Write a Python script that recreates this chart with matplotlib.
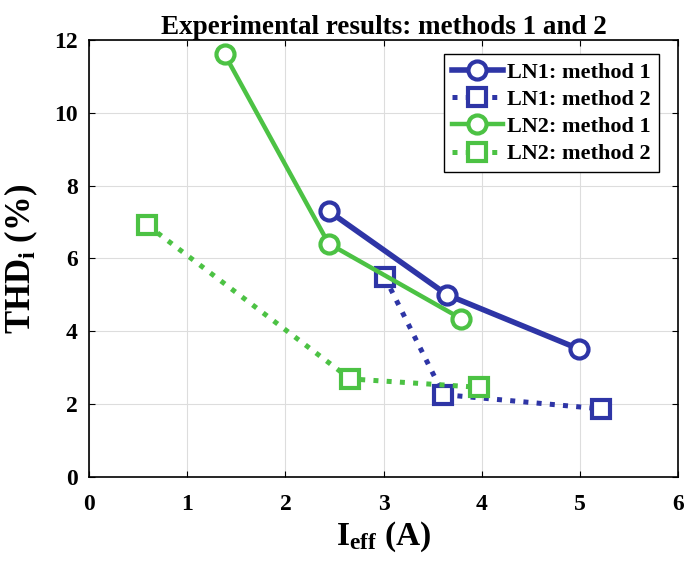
import matplotlib.pyplot as plt

ln1_m1_x = [2.44, 3.65, 4.99]
ln1_m1_y = [7.3, 5.0, 3.52]
ln1_m2_x = [3.01, 3.61, 5.21]
ln1_m2_y = [5.5, 2.27, 1.88]
ln2_m1_x = [1.38, 2.44, 3.79]
ln2_m1_y = [11.6, 6.41, 4.35]
ln2_m2_x = [0.59, 2.66, 3.97]
ln2_m2_y = [6.92, 2.7, 2.47]

BLUE = "#2e35a6"
GREEN = "#4cc244"

plt.rcParams["font.family"] = ["Liberation Serif", "DejaVu Serif"]
plt.rcParams["font.weight"] = "bold"
plt.rcParams["mathtext.fontset"] = "custom"
plt.rcParams["mathtext.rm"] = "Liberation Serif:bold"
plt.rcParams["mathtext.it"] = "Liberation Serif:bold"
plt.rcParams["mathtext.bf"] = "Liberation Serif:bold"

fig, ax = plt.subplots(figsize=(6.85, 5.65), dpi=100)
fig.subplots_adjust(left=0.13, right=0.99, top=0.93, bottom=0.155)

mk = dict(markersize=13, markeredgewidth=3, markerfacecolor="white")
ax.plot(ln1_m1_x, ln1_m1_y, "-", marker="o", color=BLUE, linewidth=4, label="LN1: method 1", **mk)
ax.plot(ln1_m2_x, ln1_m2_y, ":", marker="s", color=BLUE, linewidth=3.6, label="LN1: method 2", **mk)
ax.plot(ln2_m1_x, ln2_m1_y, "-", marker="o", color=GREEN, linewidth=3.2, label="LN2: method 1", **mk)
ax.plot(ln2_m2_x, ln2_m2_y, ":", marker="s", color=GREEN, linewidth=3.6, label="LN2: method 2", **mk)

ax.set_xlim(0, 6)
ax.set_ylim(0, 12)
ax.set_xticks(range(0, 7))
ax.set_yticks(range(0, 13, 2))
ax.grid(True, color="#dddddd", linewidth=0.8)
ax.tick_params(direction="in", top=True, right=True, labelsize=17, length=4)
ax.tick_params(axis="x", pad=12)
ax.tick_params(axis="y", pad=8)
for s in ax.spines.values():
    s.set_linewidth(1.2)

ax.set_title("Experimental results: methods 1 and 2", fontsize=19.5, fontweight="bold", pad=4)
ax.set_xlabel(r"I$_{\mathrm{eff}}$ (A)", fontsize=24, fontweight="bold", labelpad=3)
ax.set_ylabel(r"THD$_{\mathrm{i}}$ (%)", fontsize=25, fontweight="bold", labelpad=10)

leg = ax.legend(loc="upper right", fontsize=16, fancybox=False, edgecolor="black",
                framealpha=1, handlelength=2.3, handletextpad=0.2, borderpad=0.35,
                labelspacing=0.3, borderaxespad=0, bbox_to_anchor=(0.967, 0.966))
leg.get_frame().set_linewidth(1.0)

fig.savefig("out.png", dpi=100)
